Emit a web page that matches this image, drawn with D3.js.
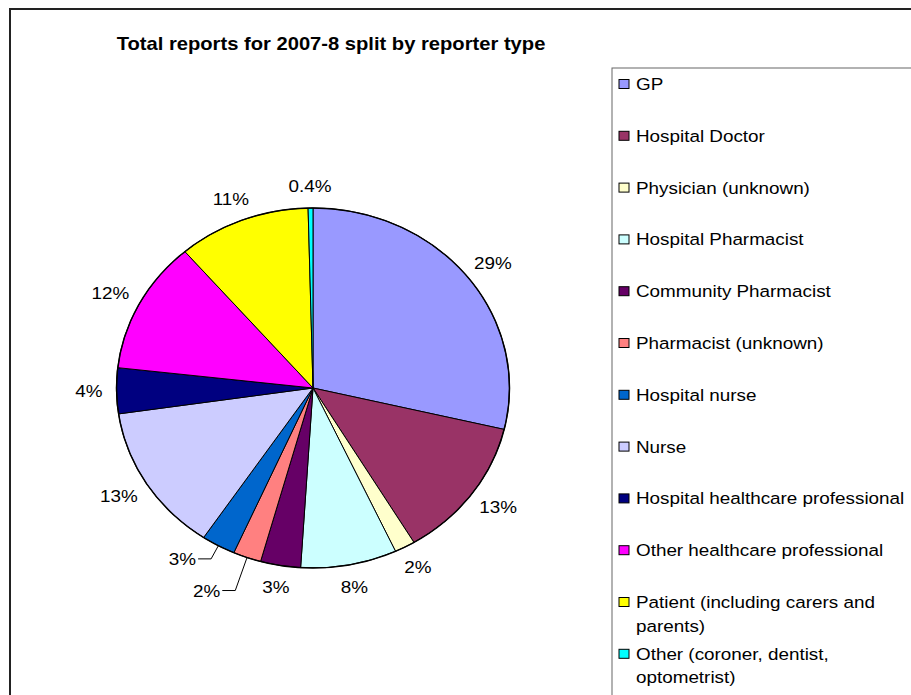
<!DOCTYPE html>
<html>
<head>
<meta charset="utf-8">
<script src="https://cdn.jsdelivr.net/npm/d3@7"></script>
<style>
  body { margin: 0; background: #fff; }
  text { font-family: Arial, "Liberation Sans", sans-serif; fill: #000; }
</style>
</head>
<body>
<div id="chart"></div>
<script>
// Chart data
var title = "Total reports for 2007-8 split by reporter type";
var categories = ["GP", "Hospital Doctor", "Physician (unknown)", "Hospital Pharmacist",
	"Community Pharmacist", "Pharmacist (unknown)", "Hospital nurse", "Nurse",
	"Hospital healthcare professional", "Other healthcare professional",
	"Patient (including carers and parents)", "Other (coroner, dentist, optometrist)"];
var values = [28.7, 12.7, 1.7, 7.9, 3.3, 2.3, 2.8, 13.3, 4.1, 11.9, 10.9, 0.4];
var pctLabels = ["29%", "13%", "2%", "8%", "3%", "2%", "3%", "13%", "4%", "12%", "11%", "0.4%"];
var colors = ["#9999FF", "#993366", "#FFFFCC", "#CCFFFF", "#660066", "#FF8080",
	"#0066CC", "#CCCCFF", "#000080", "#FF00FF", "#FFFF00", "#00FFFF"];

// Layout
var width = 911, height = 695;
var sx = 1.11; // original picture is stretched horizontally
var cx = 313, cy = 388, rx = 196.5, ry = 180;
var labelGap = 14;
var leaderOut = {"Pharmacist (unknown)": 35, "Hospital nurse": 15};
var legend = {x: 612, y: 68, top: 84, step: 51.8, line: 23.5, maxText: 250};

var svg = d3.select('#chart').append('svg')
	.attr('width', width)
	.attr('height', height);

// Chart frame (runs off the right and bottom edge)
svg.append('rect')
	.attr('x', 10).attr('y', 9)
	.attr('width', 1000).attr('height', 800)
	.attr('fill', '#fff')
	.attr('stroke', '#222')
	.attr('stroke-width', 2);

// Title
svg.append('text')
	.attr('transform', 'translate(331,50) scale(1.12,1)')
	.attr('text-anchor', 'middle')
	.attr('font-weight', 'bold')
	.attr('font-size', 18)
	.text(title);

// Pie, drawn on a unit circle and scaled into an ellipse
var pie = d3.pie().sort(null).value(function(d) { return d; });
var arcs = pie(values);
var arc = d3.arc().innerRadius(0).outerRadius(1);

var gPie = svg.append('g')
	.attr('transform', 'translate(' + cx + ',' + cy + ') scale(' + rx + ',' + ry + ')');

gPie.selectAll('path')
	.data(arcs)
	.enter().append('path')
	.attr('d', arc)
	.attr('fill', function(d, i) { return colors[i]; })
	.attr('stroke', '#000')
	.attr('stroke-width', 1)
	.attr('vector-effect', 'non-scaling-stroke');

gPie.append('circle')
	.attr('r', 1)
	.attr('fill', 'none')
	.attr('stroke', '#000')
	.attr('stroke-width', 1.5)
	.attr('vector-effect', 'non-scaling-stroke');

function edgePoint(a, k) {
	return [cx + (rx + k) * Math.sin(a), cy - (ry + k) * Math.cos(a)];
}

// Percentage labels
var gLab = svg.append('g');
arcs.forEach(function(d, i) {
	var mid = (d.startAngle + d.endAngle) / 2;
	var s = Math.sin(mid), c = Math.cos(mid);
	var t = gLab.append('text')
		.attr('font-size', 17)
		.text(pctLabels[i]);
	var w = t.node().getComputedTextLength() * sx;
	var out = leaderOut[categories[i]];
	if (out) {
		var e = edgePoint(mid, 0);
		var elbow = [e[0] + s * out, e[1] - c * out];
		var tail = [elbow[0] - 13, elbow[1]];
		gLab.append('polyline')
			.attr('points', [e, elbow, tail].map(function(p) { return p.join(','); }).join(' '))
			.attr('fill', 'none')
			.attr('stroke', '#000')
			.attr('stroke-width', 1);
		t.attr('text-anchor', 'end')
			.attr('transform', 'translate(' + (tail[0] - 2) + ',' + (tail[1] + 6) + ') scale(' + sx + ',1)');
	} else {
		var p = edgePoint(mid, labelGap);
		var x = p[0] + s * w / 2;
		var y = p[1] - c * 8;
		t.attr('text-anchor', 'middle')
			.attr('transform', 'translate(' + x + ',' + (y + 6) + ') scale(' + sx + ',1)');
	}
});

// Legend
svg.append('rect')
	.attr('x', legend.x).attr('y', legend.y)
	.attr('width', 500).attr('height', 700)
	.attr('fill', '#fff')
	.attr('stroke', '#666')
	.attr('stroke-width', 1);

var gLeg = svg.append('g');
categories.forEach(function(name, i) {
	var y = legend.top + legend.step * i;
	gLeg.append('rect')
		.attr('x', legend.x + 7).attr('y', y - 4.5)
		.attr('width', 10).attr('height', 9)
		.attr('fill', colors[i])
		.attr('stroke', '#000')
		.attr('stroke-width', 1);

	// wrap the label to the legend width
	var words = name.split(' '), lines = [], cur = '';
	var probe = gLeg.append('text').attr('font-size', 17);
	words.forEach(function(wd) {
		var test = cur ? cur + ' ' + wd : wd;
		probe.text(test);
		if (probe.node().getComputedTextLength() > legend.maxText && cur) {
			lines.push(cur);
			cur = wd;
		} else {
			cur = test;
		}
	});
	lines.push(cur);
	probe.remove();

	lines.forEach(function(ln, j) {
		gLeg.append('text')
			.attr('font-size', 17)
			.attr('transform', 'translate(' + (legend.x + 24) + ',' + (y + 6 + legend.line * j) + ') scale(' + sx + ',1)')
			.text(ln);
	});
});
</script>
</body>
</html>
